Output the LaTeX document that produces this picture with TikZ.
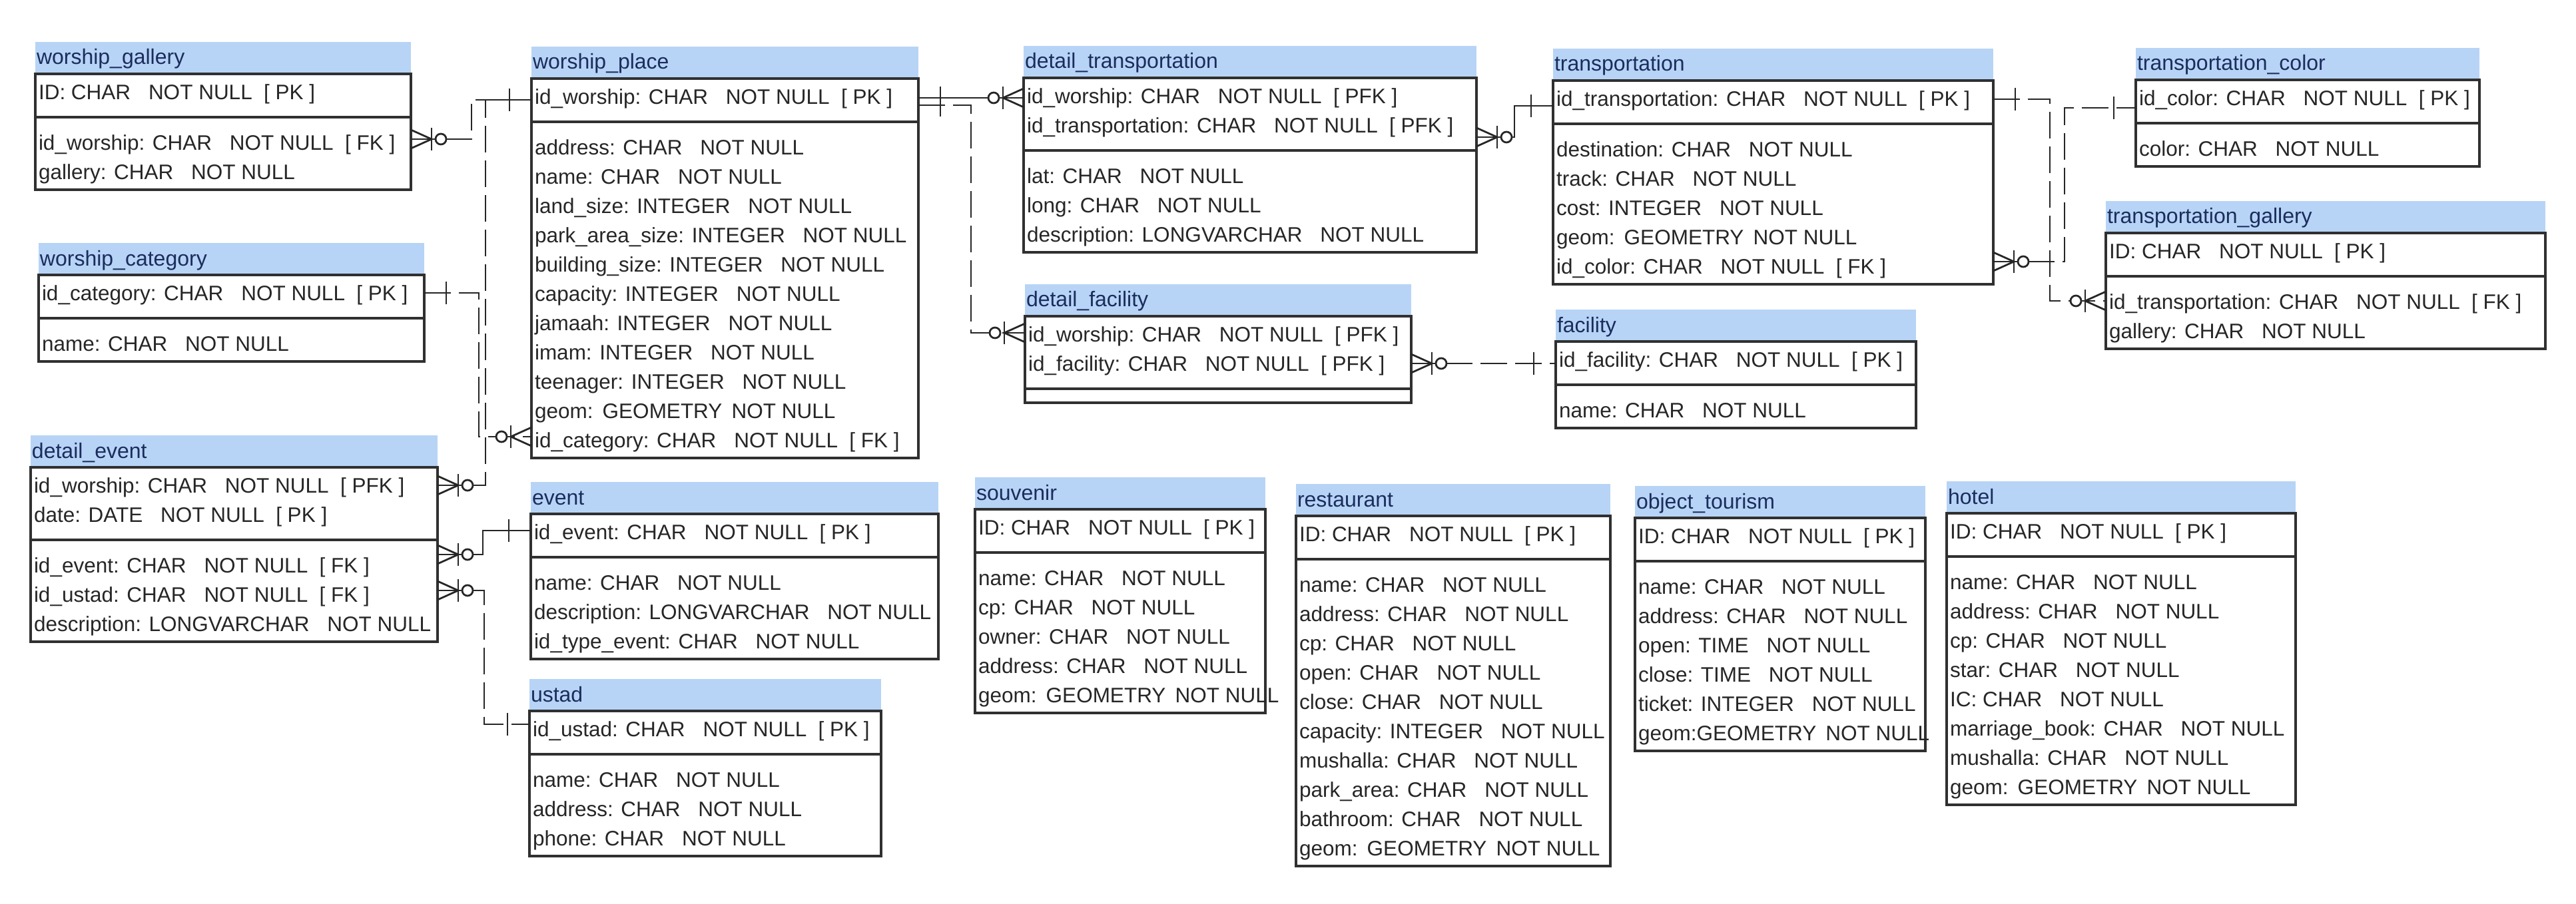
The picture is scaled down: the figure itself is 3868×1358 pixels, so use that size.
\documentclass[tikz,border=0pt]{standalone}
\usepackage{fontspec}
\setmainfont{Liberation Sans}
\usetikzlibrary{calc}
\definecolor{bandblue}{HTML}{B7D4F6}
\definecolor{titlenavy}{HTML}{1B2D5C}
\definecolor{inkgray}{HTML}{262626}
\definecolor{edgegray}{HTML}{303030}
\newcommand\nn{\hspace{0.85em}NOT NULL}
\newcommand\gnn{\hspace{0.45em}NOT NULL}
\newcommand\kPK{\hspace{0.55em}[ PK ]}
\newcommand\kFK{\hspace{0.55em}[ FK ]}
\newcommand\kPFK{\hspace{0.55em}[ PFK ]}
\tikzset{
  tblbox/.style={draw=edgegray, line width=0.7pt, fill=white, inner sep=0pt, outer sep=0pt, anchor=north west},
  tbledge/.style={draw=edgegray, line width=0.7pt},
  rowtext/.style={anchor=base west, inner sep=0pt, text=inkgray, font=\fontsize{6.3}{7}\selectfont},
  titletext/.style={anchor=base west, inner sep=0pt, text=titlenavy, font=\fontsize{6.4}{7}\selectfont},
  rel/.style={draw=inkgray, line width=0.55pt},
  reldash/.style={rel, dash pattern=on 8pt off 2.4pt},
  relmark/.style={draw=inkgray, line width=0.55pt},
}
% #1 name, #2 title, #3 x1, #4 x2, #5 top, #6 n pk, #7 n attr, #8 pk rows, #9 attr rows
\newcommand\ertable[9]{%
  \pgfmathsetmacro\erS{#5+21+44*#6}%
  \pgfmathsetmacro\erB{\erS+21+44*#7}%
  \pgfmathsetmacro\erW{(#4-#3)*0.2}%
  \pgfmathsetmacro\erH{(\erB-#5)*0.2}%
  \fill[bandblue] (#3,#5-48) rectangle (#4,#5);
  \node[titletext] (#1-title) at (#3+1,#5-14) {#2};
  \node[tblbox, minimum width=\erW pt, minimum height=\erH pt] (#1) at (#3,#5) {};
  \draw[tbledge] (#3,\erS) -- (#4,\erS);
  \foreach \rowtxt [count=\rk] in {#8} {%
    \coordinate (#1-p\rk) at (#3,#5-17+44*\rk);
    \node[rowtext] (#1-pt\rk) at (#3+4,#5-17+44*\rk+11.5) {\rowtxt};
  }
  \ifnum#7>0
  \foreach \rowtxt [count=\rk] in {#9} {%
    \coordinate (#1-a\rk) at (#3,\erS-6+44*\rk);
    \node[rowtext] (#1-at\rk) at (#3+4,\erS-6+44*\rk+11.5) {\rowtxt};
  }
  \fi
}
\newcommand\pkbar[2]{\draw[relmark] ($(#1)+(#2*33,-17)$) -- ($(#1)+(#2*33,17)$);}
\newcommand\crowfoot[2]{%
  \draw[relmark] ($(#1)+(0,-14)$) -- ($(#1)+(#2*31,0)$) -- ($(#1)+(0,14)$);
  \draw[relmark] ($(#1)+(#2*31,-17)$) -- ($(#1)+(#2*31,17)$);
  \draw[relmark, fill=white] ($(#1)+(#2*45,0)$) circle[radius=8];
}
\begin{document}
\begin{tikzpicture}[x=0.2pt, y=-0.2pt]
\fill[white] (0,0) rectangle (3868,1358);
\useasboundingbox (0,0) rectangle (3868,1358);

\ertable{wg}{worship\_gallery}{53}{617}{111}{1}{2}
  {ID: CHAR\nn\kPK}
  {id\_worship: CHAR\nn\kFK, gallery: CHAR\nn}
\ertable{wc}{worship\_category}{58}{637}{413}{1}{1}
  {id\_category: CHAR\nn\kPK}
  {name: CHAR\nn}
\ertable{de}{detail\_event}{46}{657}{702}{2}{3}
  {id\_worship: CHAR\nn\kPFK, date: DATE\nn\kPK}
  {id\_event: CHAR\nn\kFK, id\_ustad: CHAR\nn\kFK, description: LONGVARCHAR\nn}
\ertable{wp}{worship\_place}{798}{1379}{118}{1}{11}
  {id\_worship: CHAR\nn\kPK}
  {address: CHAR\nn, name: CHAR\nn, land\_size: INTEGER\nn, park\_area\_size: INTEGER\nn,
   building\_size: INTEGER\nn, capacity: INTEGER\nn, jamaah: INTEGER\nn, imam: INTEGER\nn,
   teenager: INTEGER\nn, geom:\hspace{0.45em}GEOMETRY\gnn, id\_category: CHAR\nn\kFK}
\ertable{ev}{event}{797}{1409}{772}{1}{3}
  {id\_event: CHAR\nn\kPK}
  {name: CHAR\nn, description: LONGVARCHAR\nn, id\_type\_event: CHAR\nn}
\ertable{us}{ustad}{795}{1323}{1068}{1}{3}
  {id\_ustad: CHAR\nn\kPK}
  {name: CHAR\nn, address: CHAR\nn, phone: CHAR\nn}
\ertable{dt}{detail\_transportation}{1537}{2217}{117}{2}{3}
  {id\_worship: CHAR\nn\kPFK, id\_transportation: CHAR\nn\kPFK}
  {lat: CHAR\nn, long: CHAR\nn, description: LONGVARCHAR\nn}
\ertable{df}{detail\_facility}{1539}{2119}{475}{2}{0}
  {id\_worship: CHAR\nn\kPFK, id\_facility: CHAR\nn\kPFK}
  {}
\ertable{tr}{transportation}{2332}{2993}{121}{1}{5}
  {id\_transportation: CHAR\nn\kPK}
  {destination: CHAR\nn, track: CHAR\nn, cost: INTEGER\nn, geom:\hspace{0.45em}GEOMETRY\gnn, id\_color: CHAR\nn\kFK}
\ertable{fa}{facility}{2336}{2877}{513}{1}{1}
  {id\_facility: CHAR\nn\kPK}
  {name: CHAR\nn}
\ertable{tc}{transportation\_color}{3207}{3723}{120}{1}{1}
  {id\_color: CHAR\nn\kPK}
  {color: CHAR\nn}
\ertable{tg}{transportation\_gallery}{3162}{3822}{350}{1}{2}
  {ID: CHAR\nn\kPK}
  {id\_transportation: CHAR\nn\kFK, gallery: CHAR\nn}
\ertable{sv}{souvenir}{1464}{1900}{765}{1}{5}
  {ID: CHAR\nn\kPK}
  {name: CHAR\nn, cp: CHAR\nn, owner: CHAR\nn, address: CHAR\nn, geom:\hspace{0.45em}GEOMETRY\gnn}
\ertable{rs}{restaurant}{1946}{2418}{775}{1}{10}
  {ID: CHAR\nn\kPK}
  {name: CHAR\nn, address: CHAR\nn, cp: CHAR\nn, open: CHAR\nn, close: CHAR\nn,
   capacity: INTEGER\nn, mushalla: CHAR\nn, park\_area: CHAR\nn, bathroom: CHAR\nn,
   geom:\hspace{0.45em}GEOMETRY\gnn}
\ertable{ot}{object\_tourism}{2455}{2891}{778}{1}{6}
  {ID: CHAR\nn\kPK}
  {name: CHAR\nn, address: CHAR\nn, open: TIME\nn, close: TIME\nn, ticket: INTEGER\nn,
   geom:GEOMETRY\gnn}
\ertable{ho}{hotel}{2923}{3447}{771}{1}{8}
  {ID: CHAR\nn\kPK}
  {name: CHAR\nn, address: CHAR\nn, cp: CHAR\nn, star: CHAR\nn, IC: CHAR\nn,
   marriage\_book: CHAR\nn, mushalla: CHAR\nn, geom:\hspace{0.45em}GEOMETRY\gnn}

% connection end points
\coordinate (c1a) at ($(wg-a1 -| wg.east)+(0,-5)$);
\coordinate (c1b) at ($(wp-p1 -| wp.west)+(0,5)$);
\coordinate (c2a) at (wc-p1 -| wc.east);
\coordinate (c2b) at ($(wp-a11 -| wp.west)+(0,-5)$);
\coordinate (c3a) at (de-p1 -| de.east);
\coordinate (c4a) at ($(de-a1 -| de.east)+(0,-16)$);
\coordinate (c4b) at ($(ev-p1 -| ev.west)+(0,-2)$);
\coordinate (c5a) at ($(de-a2 -| de.east)+(0,-6)$);
\coordinate (c5b) at ($(us-p1 -| us.west)+(0,-7)$);
\coordinate (c6a) at ($(wp-p1 -| wp.east)+(0,2)$);
\coordinate (c6b) at ($(dt-p1 -| dt.west)+(0,3)$);
\coordinate (c7a) at ($(wp-p1 -| wp.east)+(0,13)$);
\coordinate (c7b) at ($(df-p1 -| df.west)+(0,-2)$);
\coordinate (c8a) at ($(dt-p2 -| dt.east)+(0,18)$);
\coordinate (c8b) at ($(tr-p1 -| tr.west)+(0,11)$);
\coordinate (c9a) at (df-p2 -| df.east);
\coordinate (c9b) at (c9a -| fa.west);
\coordinate (c10a) at ($(tr-a5 -| tr.east)+(0,-7)$);
\coordinate (c10b) at ($(tc-p1 -| tc.west)+(0,15)$);
\coordinate (c11a) at ($(tr-p1 -| tr.east)+(0,1)$);
\coordinate (c11b) at ($(tg-a1 -| tg.west)+(0,-1)$);

% connectors
\draw[reldash] (c1a) -| ($(c1b)+(-90,0)$) -- (c1b);
\draw[reldash] (c3a) -| ($(c1b)+(-69,0)$) -- (c1b);
\draw[reldash] (c2a) -| ($(c2b)+(-79,0)$) -- (c2b);
\draw[rel] (c4a) -| ($(c4b)+(-72,0)$) -- (c4b);
\draw[reldash] (c5a) -| ($(c5b)+(-68,0)$) -- (c5b);
\draw[rel] (c6a) -- (c6b);
\draw[reldash] (c7a) -| ($(c7b)+(-81,0)$) -- (c7b);
\draw[rel] (c8a) -| ($(c8b)+(-58,0)$) -- (c8b);
\draw[reldash] (c9a) -- (c9b);
\draw[reldash] (c10a) -| ($(c10b)+(-107,0)$) -- (c10b);
\draw[reldash] (c11a) -| ($(c11b)+(-84,0)$) -- (c11b);

% relationship ends
\crowfoot{c1a}{1}   \pkbar{c1b}{-1}
\crowfoot{c3a}{1}
\pkbar{c2a}{1}      \crowfoot{c2b}{-1}
\crowfoot{c4a}{1}   \pkbar{c4b}{-1}
\crowfoot{c5a}{1}   \pkbar{c5b}{-1}
\pkbar{c6a}{1}      \crowfoot{c6b}{-1}
\pkbar{c7a}{1}      \crowfoot{c7b}{-1}
\crowfoot{c8a}{1}   \pkbar{c8b}{-1}
\crowfoot{c9a}{1}   \pkbar{c9b}{-1}
\crowfoot{c10a}{1}  \pkbar{c10b}{-1}
\pkbar{c11a}{1}     \crowfoot{c11b}{-1}
\end{tikzpicture}
\end{document}
